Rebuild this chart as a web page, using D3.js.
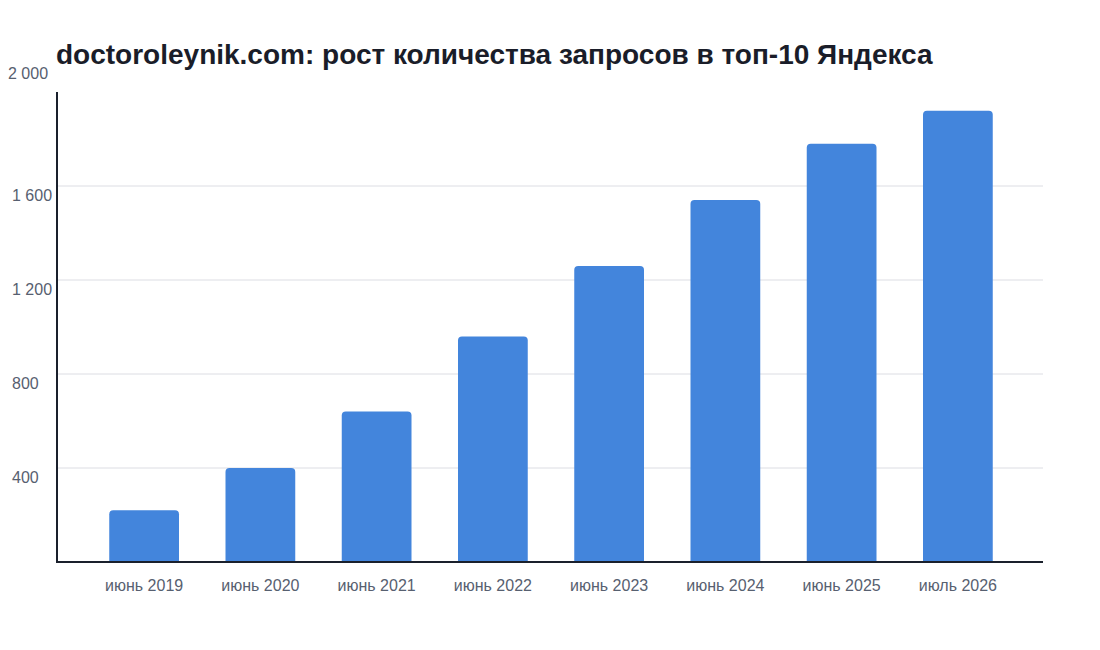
<!DOCTYPE html>
<html>
<head>
<meta charset="utf-8">
<script src="https://cdn.jsdelivr.net/npm/d3@7"></script>
<style>
    body { margin: 0; background: #fff; }
    text { font-family: "Liberation Sans", Arial, sans-serif; }
</style>
</head>
<body>
<svg id="chart" width="1100" height="650"></svg>
<script>
//data
var categories = ["июнь 2019", "июнь 2020", "июнь 2021", "июнь 2022",
    "июнь 2023", "июнь 2024", "июнь 2025", "июль 2026"];
var values = [220, 400, 640, 960, 1260, 1540, 1780, 1920];
var yTicks = [400, 800, 1200, 1600, 2000];

var svg = d3.select("#chart");

//plot area (note: "top" is taken by window.top, so use other names)
var plotLeft = 57, plotRight = 1043, plotTop = 92, plotBottom = 562;

var x = d3.scaleBand()
    .domain(categories)
    .range([plotLeft + 29, plotRight - 27])
    .paddingInner(0.4)
    .paddingOuter(0.2);

var y = d3.scaleLinear()
    .domain([0, 2000])
    .range([plotBottom, plotTop]);

var fmt = function(d) { return d3.format(",")(d).replace(",", " "); };

//title
svg.append("text")
    .attr("x", 56)
    .attr("y", 64)
    .attr("font-size", 28)
    .attr("font-weight", "bold")
    .attr("fill", "#1a1d29")
    .text("doctoroleynik.com: рост количества запросов в топ-10 Яндекса");

//gridlines
svg.append("g")
    .selectAll("line")
    .data(yTicks.filter(function(d) { return d < 2000; }))
    .enter().append("line")
    .attr("x1", plotLeft)
    .attr("x2", plotRight)
    .attr("y1", function(d) { return y(d); })
    .attr("y2", function(d) { return y(d); })
    .attr("stroke", "#dcdde3")
    .attr("stroke-width", 1);

//y labels sit just below their gridline, the top one above the axis
svg.append("g")
    .selectAll("text")
    .data(yTicks)
    .enter().append("text")
    .attr("x", function(d) { return d === 2000 ? 8 : 12; })
    .attr("y", function(d) { return d === 2000 ? y(d) - 19 : y(d) + 9; })
    .attr("dy", "0.35em")
    .attr("font-size", 16)
    .attr("fill", "#576070")
    .text(fmt);

//bars with rounded tops
var r = 4;
svg.append("g")
    .selectAll("path")
    .data(values)
    .enter().append("path")
    .attr("fill", "#4385dc")
    .attr("d", function(d, i) {
        var x0 = x(categories[i]), w = x.bandwidth(), y0 = y(d), y1 = y(0);
        return "M" + x0 + "," + y1 +
            "V" + (y0 + r) +
            "Q" + x0 + "," + y0 + " " + (x0 + r) + "," + y0 +
            "H" + (x0 + w - r) +
            "Q" + (x0 + w) + "," + y0 + " " + (x0 + w) + "," + (y0 + r) +
            "V" + y1 + "Z";
    });

//x labels
svg.append("g")
    .selectAll("text")
    .data(categories)
    .enter().append("text")
    .attr("x", function(d) { return x(d) + x.bandwidth() / 2; })
    .attr("y", plotBottom + 23)
    .attr("dy", "0.35em")
    .attr("text-anchor", "middle")
    .attr("font-size", 16)
    .attr("fill", "#576070")
    .text(function(d) { return d; });

//axis lines
svg.append("line")
    .attr("x1", plotLeft).attr("x2", plotLeft)
    .attr("y1", plotTop).attr("y2", plotBottom + 1)
    .attr("stroke", "#1a202c").attr("stroke-width", 2);
svg.append("line")
    .attr("x1", plotLeft - 1).attr("x2", plotRight)
    .attr("y1", plotBottom).attr("y2", plotBottom)
    .attr("stroke", "#1a202c").attr("stroke-width", 2);
</script>
</body>
</html>
